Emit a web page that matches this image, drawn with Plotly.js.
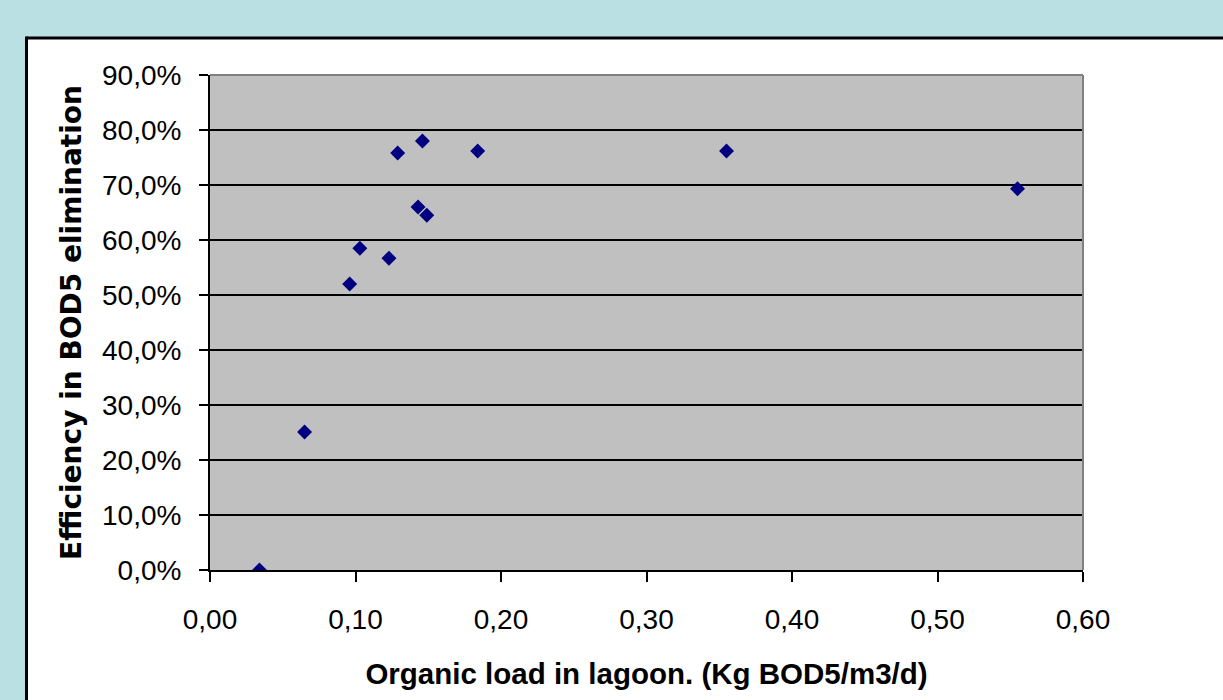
<!DOCTYPE html>
<html>
<head>
<meta charset="utf-8">
<script src="https://cdn.plot.ly/plotly-3.0.1.min.js"></script>
<style>html,body{margin:0;padding:0;background:#ffffff;}#chart{width:1223px;height:700px;}</style>
</head>
<body>
<div id="chart"></div>
<script>
// Organic load in lagoon (Kg BOD5/m3/d)
const organicLoad = [0.034, 0.065, 0.096, 0.103, 0.123, 0.129, 0.143, 0.146, 0.149, 0.184, 0.355, 0.555];
// Efficiency in BOD5 elimination (fraction)
const efficiency = [0.000, 0.251, 0.520, 0.585, 0.567, 0.758, 0.660, 0.780, 0.645, 0.762, 0.762, 0.693];

const xTitle = 'Organic load in lagoon. (Kg BOD5/m3/d)';
const yTitle = 'Efficiency in BOD5 elimination';

const trace = {
  type: 'scatter',
  mode: 'markers',
  x: organicLoad,
  y: efficiency,
  marker: {symbol: 'diamond', color: '#000080', size: 11.5, line: {width: 0}},
  hoverinfo: 'x+y'
};

const blue = '#bbe0e3';
const layout = {
  width: 1223,
  height: 700,
  margin: {l: 210, r: 140, t: 75, b: 130, pad: 0},
  paper_bgcolor: '#ffffff',
  plot_bgcolor: '#c0c0c0',
  separators: ',.',
  showlegend: false,
  font: {family: '"Liberation Sans", Arial, sans-serif', color: '#000000'},
  xaxis: {
    range: [0, 0.6],
    dtick: 0.1,
    tick0: 0,
    tickformat: '.2f',
    showgrid: false,
    zeroline: false,
    showline: true,
    linecolor: '#000000',
    linewidth: 2,
    ticks: 'outside',
    ticklen: 10,
    tickwidth: 2,
    tickcolor: '#000000',
    ticklabelstandoff: 13,
    tickfont: {size: 28, color: '#000000'},
    title: {text: xTitle, font: {size: 29.5, color: '#000000', family: '"Liberation Sans", Arial, sans-serif', weight: 'bold'}, standoff: 30},
    fixedrange: true
  },
  yaxis: {
    range: [0, 0.9],
    dtick: 0.1,
    tick0: 0,
    tickformat: '.1%',
    showgrid: true,
    gridcolor: '#000000',
    gridwidth: 2,
    zeroline: false,
    showline: true,
    linecolor: '#000000',
    linewidth: 2,
    ticks: 'outside',
    ticklen: 9,
    tickwidth: 2,
    tickcolor: '#000000',
    ticklabelstandoff: 12,
    tickfont: {size: 28, color: '#000000'},
    title: {text: yTitle, font: {size: 28, color: '#000000', family: '"DejaVu Sans", Verdana, sans-serif', weight: 'bold'}, standoff: 12},
    fixedrange: true
  },
  shapes: [
    // light blue surround (left strip and top strip)
    {type: 'rect', xref: 'paper', yref: 'paper', x0: -0.3, x1: (26 - 210) / 873, y0: -0.3, y1: 1.2, fillcolor: blue, line: {width: 0}, layer: 'below'},
    {type: 'rect', xref: 'paper', yref: 'paper', x0: -0.3, x1: 1.2, y0: (570 - 37.5) / 495, y1: 1.2, fillcolor: blue, line: {width: 0}, layer: 'below'},
    // black panel border
    {type: 'line', xref: 'paper', yref: 'paper', x0: (26.5 - 210) / 873, x1: 1.2, y0: (570 - 38) / 495, y1: (570 - 38) / 495, line: {color: '#000000', width: 3}, layer: 'below'},
    {type: 'line', xref: 'paper', yref: 'paper', x0: (26.5 - 210) / 873, x1: (26.5 - 210) / 873, y0: -0.3, y1: (570 - 36.5) / 495, line: {color: '#000000', width: 3}, layer: 'below'},
    // gray plot border top & right
    {type: 'line', xref: 'paper', yref: 'paper', x0: 0, x1: 1, y0: 1, y1: 1, line: {color: '#808080', width: 2}, layer: 'above'},
    {type: 'line', xref: 'paper', yref: 'paper', x0: 1, x1: 1, y0: 0, y1: 1, line: {color: '#808080', width: 2}, layer: 'above'}
  ]
};

Plotly.newPlot('chart', [trace], layout, {displayModeBar: false, staticPlot: true});
</script>
</body>
</html>
